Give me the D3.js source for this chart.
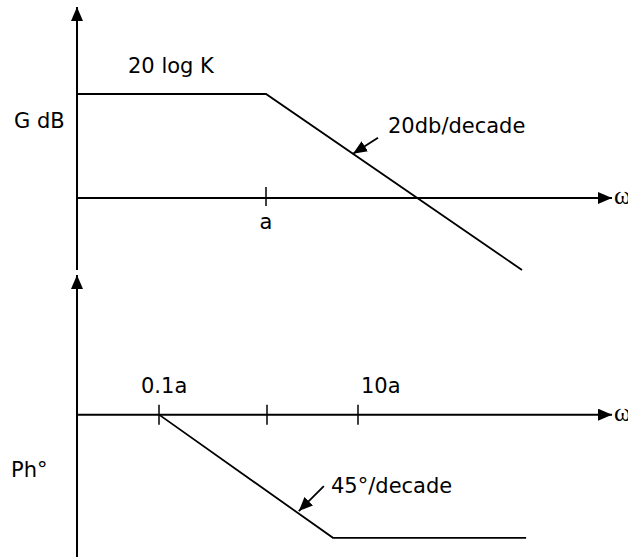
<!DOCTYPE html>
<html>
  <head>
    <meta charset="utf-8">
    <script src="https://d3js.org/d3.v7.min.js"></script>
    <style>
      body { margin: 0; background: #fff; overflow: hidden; }
      svg text { font-family: "DejaVu Sans", Verdana, sans-serif; font-size: 21px; fill: #000; }
      svg text.omega { font-family: "Liberation Serif", serif; font-size: 26px; }
    </style>
  </head>
  <body>
    <script>
      // magnitude plot: decades relative to a, gain in dB
      var magDecade = [-1.89, 0, 2.56]
      var magDb = [26, 26, -18]
      var magTicks = [{d: 0, label: 'a'}]

      // phase plot: decades relative to a, phase in degrees
      var phDecade = [-1, 0.725, 2.86]
      var phDeg = [0, -90, -90]
      var phTicks = [{d: -1, label: '0.1a'}, {d: 0, label: ''}, {d: 1, label: '10a'}]

      var width = 628, height = 557

      var svg = d3.select('body').append('svg')
        .attr('width', width)
        .attr('height', height)

      var defs = svg.append('defs')
      defs.append('marker')
        .attr('id', 'axisHead')
        .attr('markerUnits', 'userSpaceOnUse')
        .attr('viewBox', '0 0 14 12')
        .attr('refX', 14).attr('refY', 6)
        .attr('markerWidth', 14).attr('markerHeight', 12)
        .attr('orient', 'auto')
        .append('path').attr('d', 'M0,0L14,6L0,12Z').attr('fill', '#000')
      defs.append('marker')
        .attr('id', 'noteHead')
        .attr('markerUnits', 'userSpaceOnUse')
        .attr('viewBox', '0 0 14 12')
        .attr('refX', 14).attr('refY', 6)
        .attr('markerWidth', 14).attr('markerHeight', 12)
        .attr('orient', 'auto')
        .append('path').attr('d', 'M0,0L14,6L0,12Z').attr('fill', '#000')

      //scales
      var xTop = d3.scaleLinear().domain([-1.89, 3.46]).range([77, 612])
      var yTop = d3.scaleLinear().domain([-18, 47.75]).range([270, 7])

      // hand drawn decades are not even, so piecewise
      var xBot = d3.scaleLinear().domain([-1.82, -1, 0, 1, 3.81]).range([77, 159, 267, 358, 612])
      var yBot = d3.scaleLinear().domain([-104, 102]).range([557, 275])

      var line = function(xs, ys, sx, sy) {
        return d3.line()(xs.map(function(v, i) { return [sx(v), sy(ys[i])] }))
      }

      var drawPanel = function(sx, sy, xs, ys, ticks, tickUp, tickDown) {
        var g = svg.append('g')
        var xEnd = sx(sx.domain()[sx.domain().length - 1])
        // y axis
        g.append('line')
          .attr('x1', sx.range()[0]).attr('x2', sx.range()[0])
          .attr('y1', sy.range()[0]).attr('y2', sy.range()[1])
          .attr('stroke', '#000').attr('stroke-width', 2)
          .attr('marker-end', 'url(#axisHead)')
        // x axis
        g.append('line')
          .attr('x1', sx.range()[0] + 1).attr('x2', xEnd)
          .attr('y1', sy(0)).attr('y2', sy(0))
          .attr('stroke', '#000').attr('stroke-width', 2)
          .attr('marker-end', 'url(#axisHead)')
        g.append('text')
          .attr('class', 'omega')
          .attr('x', xEnd + 2)
          .attr('y', sy(0) + 6)
          .text('ω')
        // ticks
        g.selectAll('.tick').data(ticks).enter().append('line')
          .attr('x1', function(d) { return sx(d.d) }).attr('x2', function(d) { return sx(d.d) })
          .attr('y1', sy(0) - tickUp).attr('y2', sy(0) + tickDown)
          .attr('stroke', '#000').attr('stroke-width', 1.5)
        // curve
        g.append('path')
          .attr('d', line(xs, ys, sx, sy))
          .attr('fill', 'none').attr('stroke', '#000').attr('stroke-width', 1.8)
        return g
      }

      var magPanel = drawPanel(xTop, yTop, magDecade, magDb, magTicks, 11, 8)
      magPanel.selectAll('.lab').data(magTicks).enter().append('text')
        .attr('x', function(d) { return xTop(d.d) })
        .attr('y', yTop(0) + 31)
        .attr('text-anchor', 'middle')
        .text(function(d) { return d.label })

      var phPanel = drawPanel(xBot, yBot, phDecade, phDeg, phTicks, 10, 10)
      phPanel.selectAll('.lab').data(phTicks).enter().append('text')
        .attr('x', function(d, i) { return i == 0 ? xBot(d.d) - 18 : xBot(d.d) + 3 })
        .attr('y', yBot(0) - 22)
        .text(function(d) { return d.label })

      //labels
      svg.append('text').attr('x', 128).attr('y', 73).text('20 log K')
      svg.append('text').attr('x', 14).attr('y', 128).text('G dB')
      svg.append('text').attr('x', 11).attr('y', 477).text('Ph°')

      // slope notes, arrow tip sits on the line
      var noteTop = {d: 0.87}
      var tipX = xTop(noteTop.d)
      var tipY = yTop(magDb[1] + (magDb[2] - magDb[1]) * noteTop.d / magDecade[2])
      svg.append('line')
        .attr('x1', tipX + 25).attr('y1', tipY - 16)
        .attr('x2', tipX).attr('y2', tipY)
        .attr('stroke', '#000').attr('stroke-width', 1.8)
        .attr('marker-end', 'url(#noteHead)')
      svg.append('text').attr('x', 388).attr('y', 133).text('20db/decade')

      var noteBot = {d: 0.35}
      var t = (noteBot.d - phDecade[0]) / (phDecade[1] - phDecade[0])
      var tipX2 = xBot(noteBot.d)
      var tipY2 = yBot(phDeg[0] + (phDeg[1] - phDeg[0]) * t)
      svg.append('line')
        .attr('x1', tipX2 + 25).attr('y1', tipY2 - 25)
        .attr('x2', tipX2).attr('y2', tipY2)
        .attr('stroke', '#000').attr('stroke-width', 1.8)
        .attr('marker-end', 'url(#noteHead)')
      svg.append('text').attr('x', 331).attr('y', 493).text('45°/decade')
    </script>
  </body>
</html>
